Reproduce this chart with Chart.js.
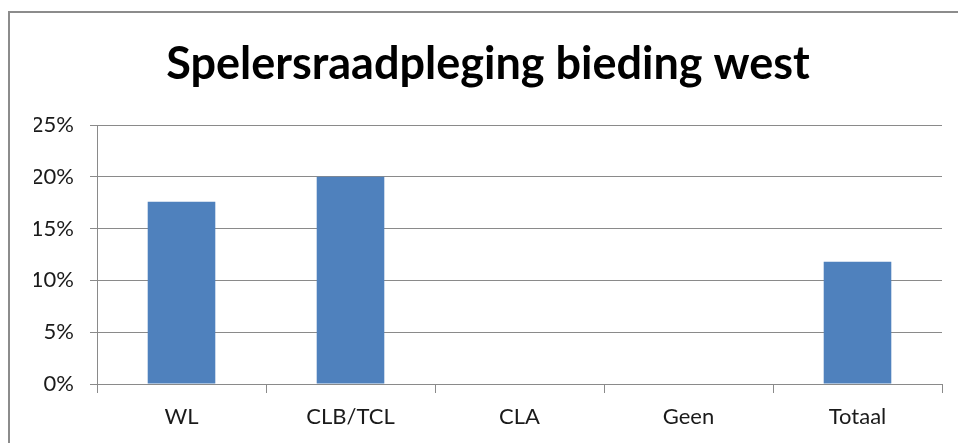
<!DOCTYPE html>
<html>
<head>
<meta charset="utf-8">
<script src="https://cdn.jsdelivr.net/npm/chart.js@4/dist/chart.umd.min.js"></script>
<style>
  html, body { margin: 0; padding: 0; background: #fff; }
  body { width: 958px; height: 443px; position: relative; overflow: hidden; }
  .frame {
    position: absolute; left: 8px; top: 11px;
    width: 1000px; height: 500px;
    border: 2px solid #8c8c8c;
  }
  #wrap { position: absolute; left: 0; top: 0; width: 958px; height: 443px; }
</style>
</head>
<body>
<div class="frame"></div>
<div id="wrap"><canvas id="chart"></canvas></div>
<script>
const TITLE      = "Spelersraadpleging bieding west";
const categories = ["WL", "CLB/TCL", "CLA", "Geen", "Totaal"];
const values     = [17.6, 20, 0, 0, 11.8];
const yTicks     = [0, 5, 10, 15, 20, 25];

const GRID = "#8a8a8a";
const FONT = "Lato, 'Open Sans', sans-serif";
const PAD_LEFT = 34;

new Chart(document.getElementById("chart"), {
  type: "bar",
  data: {
    labels: categories,
    datasets: [{
      data: values,
      backgroundColor: "#4f81bd",
      borderWidth: 0,
      categoryPercentage: 1,
      barPercentage: 0.4
    }]
  },
  options: {
    responsive: true,
    maintainAspectRatio: false,
    animation: false,
    layout: { padding: { left: PAD_LEFT, right: 16, top: 0, bottom: 0 } },
    plugins: {
      legend: { display: false },
      tooltip: { enabled: false },
      title: {
        display: true,
        text: TITLE,
        color: "#000",
        font: { family: FONT, size: 45, weight: "bold" },
        padding: { top: 37, bottom: 34 }
      }
    },
    scales: {
      x: {
        grid: { drawOnChartArea: false, drawTicks: true, tickLength: 9, color: GRID, offset: true },
        border: { color: GRID, width: 1 },
        ticks: { color: "#1a1a1a", font: { family: FONT, size: 22 }, padding: 11 },
        afterFit: (s) => { s.height = 443 - 384; }
      },
      y: {
        min: 0,
        max: 25,
        afterBuildTicks: (s) => { s.ticks = yTicks.map((v) => ({ value: v })); },
        grid: { color: GRID, tickLength: 7 },
        border: { color: GRID, width: 1 },
        ticks: {
          color: "#1a1a1a",
          font: { family: FONT, size: 22 },
          padding: 16,
          callback: (v) => v + "%"
        },
        afterFit: (s) => { s.width = 97 - PAD_LEFT; }
      }
    }
  }
});
</script>
</body>
</html>
